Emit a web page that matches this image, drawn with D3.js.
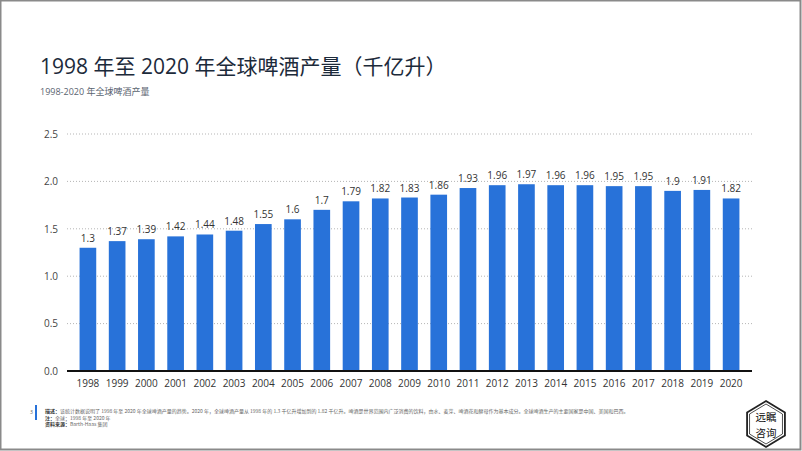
<!DOCTYPE html>
<html><head><meta charset="utf-8">
<script src="https://cdn.jsdelivr.net/npm/d3@7"></script>
<style>
html,body{margin:0;padding:0;background:#fff;}
svg{display:block;font-family:"Open Sans","Noto Sans CJK SC",sans-serif;}
</style></head>
<body><svg id="c" width="802" height="451"></svg>
<script>
const years = ["1998","1999","2000","2001","2002","2003","2004","2005","2006","2007","2008","2009","2010","2011","2012","2013","2014","2015","2016","2017","2018","2019","2020"];
const production = [1.3,1.37,1.39,1.42,1.44,1.48,1.55,1.6,1.7,1.79,1.82,1.83,1.86,1.93,1.96,1.97,1.96,1.96,1.95,1.95,1.9,1.91,1.82];
const yTicks = [0,0.5,1.0,1.5,2.0,2.5];
const titleText = "1998 年至 2020 年全球啤酒产量（千亿升）";
const subtitleText = "1998-2020 年全球啤酒产量";
const noteLines = [
  ["描述：","该统计数据说明了 1998 年至 2020 年全球啤酒产量的趋势。2020 年，全球啤酒产量从 1998 年的 1.3 千亿升增加到的 1.82 千亿升。啤酒是世界范围内广泛消费的饮料，由水、麦芽、啤酒花和酵母作为基本成分。全球啤酒生产的主要国家是中国、美国和巴西。"],
  ["注：","全球；1998 年至 2020 年"],
  ["资料来源：","Barth-Haas 集团"]
];
const logoLines = ["远瞩","咨询"];

const svg = d3.select("#c");
// frame
svg.append("rect").attr("x",0.5).attr("y",0.5).attr("width",800).attr("height",449)
  .attr("fill","none").attr("stroke","#8a8a8a").attr("stroke-width",2);

svg.append("text").attr("x",40).attr("y",74).attr("font-size",21).attr("fill","#1c2a3a")
  .attr("font-family","'Open Sans','Noto Sans CJK SC',sans-serif").text(titleText);
svg.append("text").attr("x",40).attr("y",95).attr("font-size",9).attr("fill","#5a6470").text(subtitleText);

const x = d3.scaleBand().domain(years).range([67,752]).padding(0.43);
const y = d3.scaleLinear().domain([0,2.5]).range([371,134]);

// grid
svg.append("g").selectAll("line").data(yTicks.filter(d=>d>0)).join("line")
  .attr("x1",67).attr("x2",752).attr("y1",d=>y(d)).attr("y2",d=>y(d))
  .attr("stroke","#b5b5b5").attr("stroke-width",1).attr("stroke-dasharray","1,2");

// y labels
const yAxis = d3.axisLeft(y).tickValues(yTicks).tickFormat(d3.format(".1f")).tickSize(0).tickPadding(0);
const gy = svg.append("g").attr("transform","translate(58,0)").call(yAxis);
gy.select(".domain").remove();
gy.selectAll("text").attr("font-size",10).attr("fill","#444").attr("font-family","'Open Sans',sans-serif");

// bars
svg.append("g").selectAll("rect").data(production).join("rect")
  .attr("x",(d,i)=>x(years[i])).attr("width",x.bandwidth())
  .attr("y",d=>y(d)).attr("height",d=>y(0)-y(d)).attr("fill","#2872d9");

// value labels
svg.append("g").selectAll("text").data(production).join("text")
  .attr("x",(d,i)=>x(years[i])+x.bandwidth()/2).attr("y",d=>y(d)-6)
  .attr("text-anchor","middle").attr("font-size",10).attr("fill","#333")
  .text(d=>d);

// x axis
const xAxis = d3.axisBottom(x).tickSize(0).tickPadding(9);
const gx = svg.append("g").attr("transform",`translate(0,${y(0)})`).call(xAxis);
gx.select(".domain").attr("stroke","#111").attr("stroke-width",2).attr("d","M67,0H752");
gx.selectAll("text").attr("font-size",10).attr("fill","#333").attr("font-family","'Open Sans',sans-serif");

// footnote
svg.append("text").attr("x",30).attr("y",414).attr("font-size",5).attr("fill","#555").text("3");
svg.append("rect").attr("x",35).attr("y",405).attr("width",2).attr("height",15).attr("fill","#2872d9");
noteLines.forEach((ln,i)=>{
  const t = svg.append("text").attr("x",45).attr("y",413+i*6.5).attr("font-size",5).attr("fill","#666")
    .attr("font-family","'Noto Sans CJK SC',sans-serif");
  t.append("tspan").attr("font-weight","bold").attr("fill","#333").text(ln[0]);
  t.append("tspan").text(ln[1]);
});

// logo
const cx=766, cy=424, r=23;
const hex = d3.range(6).map(k=>{const a=Math.PI/180*(60*k-90);return [cx+r*Math.cos(a)*0.95, cy+r*Math.sin(a)];});
svg.append("polygon").attr("points",hex.map(p=>p.join(",")).join(" "))
  .attr("fill","#fff").attr("stroke","#222").attr("stroke-width",1.8);
const hex2 = d3.range(6).map(k=>{const a=Math.PI/180*(60*k-90);return [cx+(r-3)*Math.cos(a)*0.95, cy+(r-3)*Math.sin(a)];});
svg.append("polygon").attr("points",hex2.map(p=>p.join(",")).join(" "))
  .attr("fill","none").attr("stroke","#222").attr("stroke-width",0.8);
svg.append("g").selectAll("text").data(logoLines).join("text")
  .attr("x",cx).attr("y",(d,i)=>cy-3+i*15.5).attr("text-anchor","middle").attr("font-size",10.5)
  .attr("font-family","'Noto Sans CJK SC',sans-serif").attr("fill","#111").text(d=>d);
</script></body></html>
